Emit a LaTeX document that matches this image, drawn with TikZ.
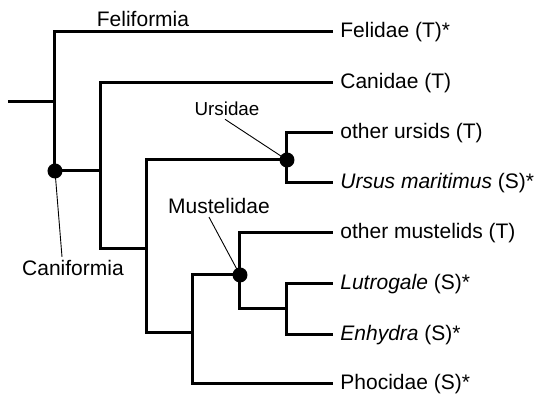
\documentclass[tikz,border=0pt]{standalone}
\usepackage{fontspec}
\setmainfont{Liberation Sans}
\usetikzlibrary{calc}
\tikzset{>=stealth}

\begin{document}
\begin{tikzpicture}[x=0.5pt, y=-0.5pt,
    branch/.style={line width=1.5pt},
    leader/.style={line width=0.45pt},
    leaf/.style={anchor=west, inner xsep=3.5pt, inner ysep=0pt, font=\fontsize{10.5}{12}\selectfont},
    clade/.style={inner sep=1.5pt, font=\fontsize{10.5}{12}\selectfont},
    knot/.style={circle, fill=black, inner sep=0pt, minimum size=7.5pt}]
    \useasboundingbox (0,0) rectangle (538,399);

    % leaves
    \node[leaf] (felidae) at (333,32) {Felidae (T)*};
    \node[leaf] (canidae) at (333,83) {Canidae (T)};
    \node[leaf] (ursids) at (333,133) {other ursids (T)};
    \node[leaf] (ursus) at (333,183) {\textit{Ursus maritimus} (S)*};
    \node[leaf] (mustelids) at (333,233) {other mustelids (T)};
    \node[leaf] (lutrogale) at (333,284) {\textit{Lutrogale} (S)*};
    \node[leaf] (enhydra) at (333,335) {\textit{Enhydra} (S)*};
    \node[leaf] (phocidae) at (333,384) {Phocidae (S)*};

    % inner nodes
    \coordinate (stem) at (8,102);
    \coordinate (root) at (55,102);
    \coordinate (cani) at (55,171);
    \coordinate (n2) at (101,171);
    \coordinate (n3) at (147,249);
    \coordinate (urs) at (287,160);
    \coordinate (n4) at (193,333);
    \coordinate (must) at (240,275);
    \coordinate (n5) at (287,309);

    \draw[branch] (stem) -- (root);
    \draw[branch] (root) |- (felidae.west);
    \draw[branch] (root) -- (cani) -- (n2);
    \draw[branch] (n2) |- (canidae.west);
    \draw[branch] (n2) |- (n3);
    \draw[branch] (n3) |- (urs);
    \draw[branch] (n3) |- (n4);
    \draw[branch] (urs) |- (ursids.west);
    \draw[branch] (urs) |- (ursus.west);
    \draw[branch] (n4) |- (must);
    \draw[branch] (n4) |- (phocidae.west);
    \draw[branch] (must) |- (mustelids.west);
    \draw[branch] (must) |- (n5);
    \draw[branch] (n5) |- (lutrogale.west);
    \draw[branch] (n5) |- (enhydra.west);

    \node[knot] (caniknot) at (cani) {};
    \node[knot] (ursknot) at (urs) {};
    \node[knot] (mustknot) at (must) {};

    % clade labels
    \node[clade] (feliformia) at (143,19) {Feliformia};
    \node[clade, font=\fontsize{9.4}{11}\selectfont] (ursidae) at (227,109) {Ursidae};
    \node[clade] (mustelidae) at (219,206) {Mustelidae};
    \node[clade] (caniformia) at (73,268) {Caniformia};

    \draw[leader] ([xshift=-1pt]ursidae.south) -- (ursknot.center);
    \draw[leader] ([xshift=-5pt]mustelidae.south) -- (mustknot.center);
    \draw[leader] ([xshift=-5.5pt]caniformia.north) -- (caniknot.center);
\end{tikzpicture}
\end{document}
